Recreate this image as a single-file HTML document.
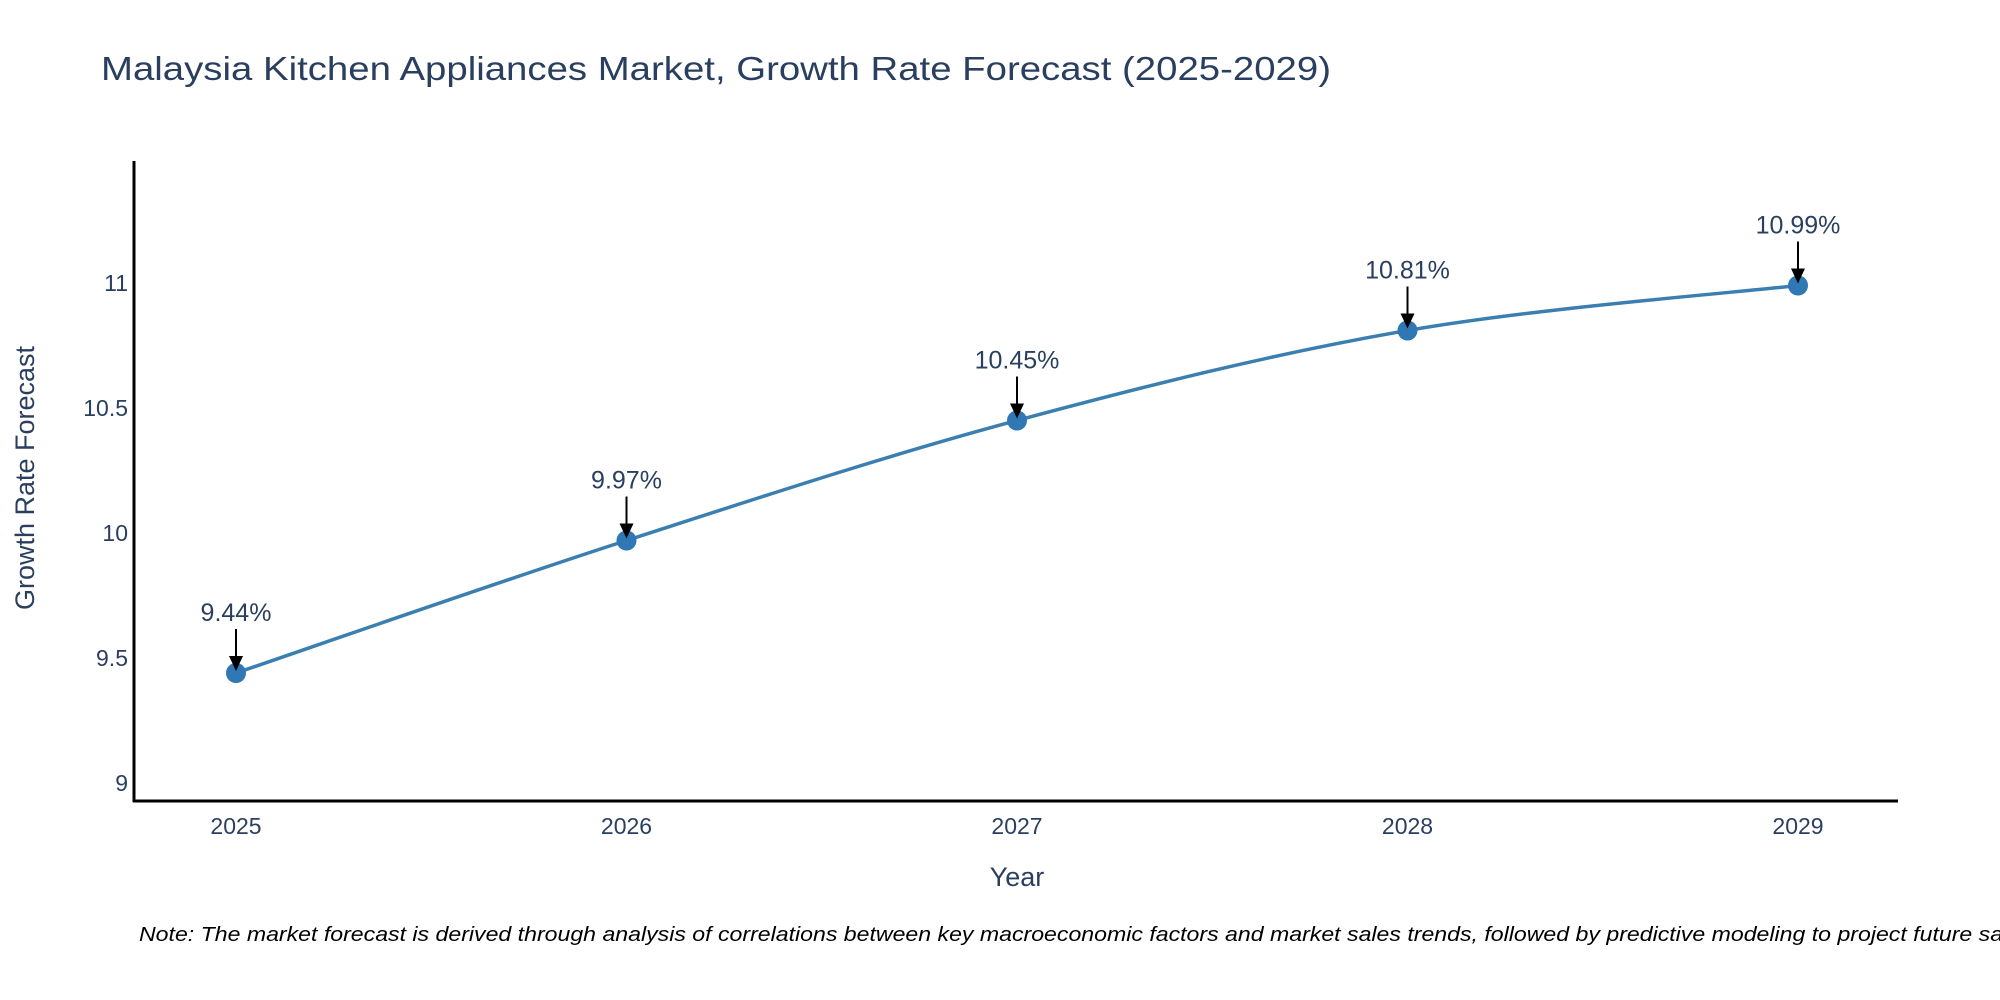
<!DOCTYPE html>
<html><head><meta charset="utf-8"><style>
html,body{margin:0;padding:0;background:#fff;}
svg{display:block;font-family:"Liberation Sans",sans-serif;}
</style></head><body>
<svg id="chart" width="2000" height="1000" xmlns="http://www.w3.org/2000/svg">
<text x="101" y="80" font-size="33" fill="#2a3f5f" textLength="1230" lengthAdjust="spacingAndGlyphs">Malaysia Kitchen Appliances Market, Growth Rate Forecast (2025-2029)</text>
<g id="plot"></g>
<text x="1017" y="886" font-size="27" fill="#2a3f5f" text-anchor="middle">Year</text>
<text transform="translate(34,478) rotate(-90)" font-size="27" fill="#2a3f5f" text-anchor="middle">Growth Rate Forecast</text>
<text x="139" y="941" font-size="20" font-style="italic" fill="#000" textLength="1900" lengthAdjust="spacingAndGlyphs">Note: The market forecast is derived through analysis of correlations between key macroeconomic factors and market sales trends, followed by predictive modeling to project future sales.</text>
</svg>
<script>
const years = [2025, 2026, 2027, 2028, 2029];
const values = [9.44, 9.97, 10.45, 10.81, 10.99];
const labels = ["9.44%", "9.97%", "10.45%", "10.81%", "10.99%"];
const yTicks = [9, 9.5, 10, 10.5, 11];
const yTickLabels = ["9", "9.5", "10", "10.5", "11"];

const NS = "http://www.w3.org/2000/svg";
const g = document.getElementById('plot');
const X0 = 134, X1 = 1898, Y0 = 161, Y1 = 801;
const xS = v => 236 + (v - 2025) * 390.5;
const yS = v => 783 - (v - 9) * 250;
function mk(tag, attrs, parent) {
  const e = document.createElementNS(NS, tag);
  for (const k in attrs) e.setAttribute(k, attrs[k]);
  (parent || g).appendChild(e);
  return e;
}

const yAxis = mk('line', {x1: X0, y1: Y0, x2: X0, y2: Y1 + 1, stroke: '#000', 'stroke-width': 3});


const xAxis = mk('line', {x1: X0 - 1, y1: Y1, x2: X1, y2: Y1, stroke: '#000', 'stroke-width': 3});



yTicks.forEach((t, i) => {
  const tx = mk('text', {x: 128, y: yS(t) + 8, 'font-size': 23, fill: '#2a3f5f', 'text-anchor': 'end'});
  tx.textContent = yTickLabels[i];
  
  
});
years.forEach(yr => {
  const tx = mk('text', {x: xS(yr), y: 834, 'font-size': 23, fill: '#2a3f5f', 'text-anchor': 'middle'});
  tx.textContent = String(yr);
  
  
});

const pts = years.map((yr, i) => [xS(yr), yS(values[i])]);
let d = 'M' + pts[0][0] + ',' + pts[0][1];
const t = 0.17;
for (let i = 0; i < pts.length - 1; i++) {
  const p0 = pts[Math.max(0, i - 1)], p1 = pts[i], p2 = pts[i + 1], p3 = pts[Math.min(pts.length - 1, i + 2)];
  const c1 = [p1[0] + (p2[0] - p0[0]) * t, p1[1] + (p2[1] - p0[1]) * t];
  const c2 = [p2[0] - (p3[0] - p1[0]) * t, p2[1] - (p3[1] - p1[1]) * t];
  d += ' C' + c1 + ' ' + c2 + ' ' + p2;
}
const line = mk('path', {d: d, fill: 'none', stroke: '#3b7fb0', 'stroke-width': 3.5});



pts.forEach((p, i) => {
  const c = mk('circle', {cx: p[0], cy: p[1], r: 10, fill: '#2f78b4'});
  
  
  const a = mk('line', {x1: p[0], y1: p[1] - 44, x2: p[0], y2: p[1] - 16, stroke: '#000', 'stroke-width': 2});
  
  
  const h = mk('path', {d: 'M' + (p[0] - 7) + ',' + (p[1] - 17) + ' L' + (p[0] + 7) + ',' + (p[1] - 17) + ' L' + p[0] + ',' + (p[1] - 2) + ' Z', fill: '#000'});
  
  
  const lb = mk('text', {x: p[0], y: p[1] - 52, 'font-size': 25, fill: '#2a3f5f', 'text-anchor': 'middle'});
  lb.textContent = labels[i];
  
  
});
</script>
</body></html>
